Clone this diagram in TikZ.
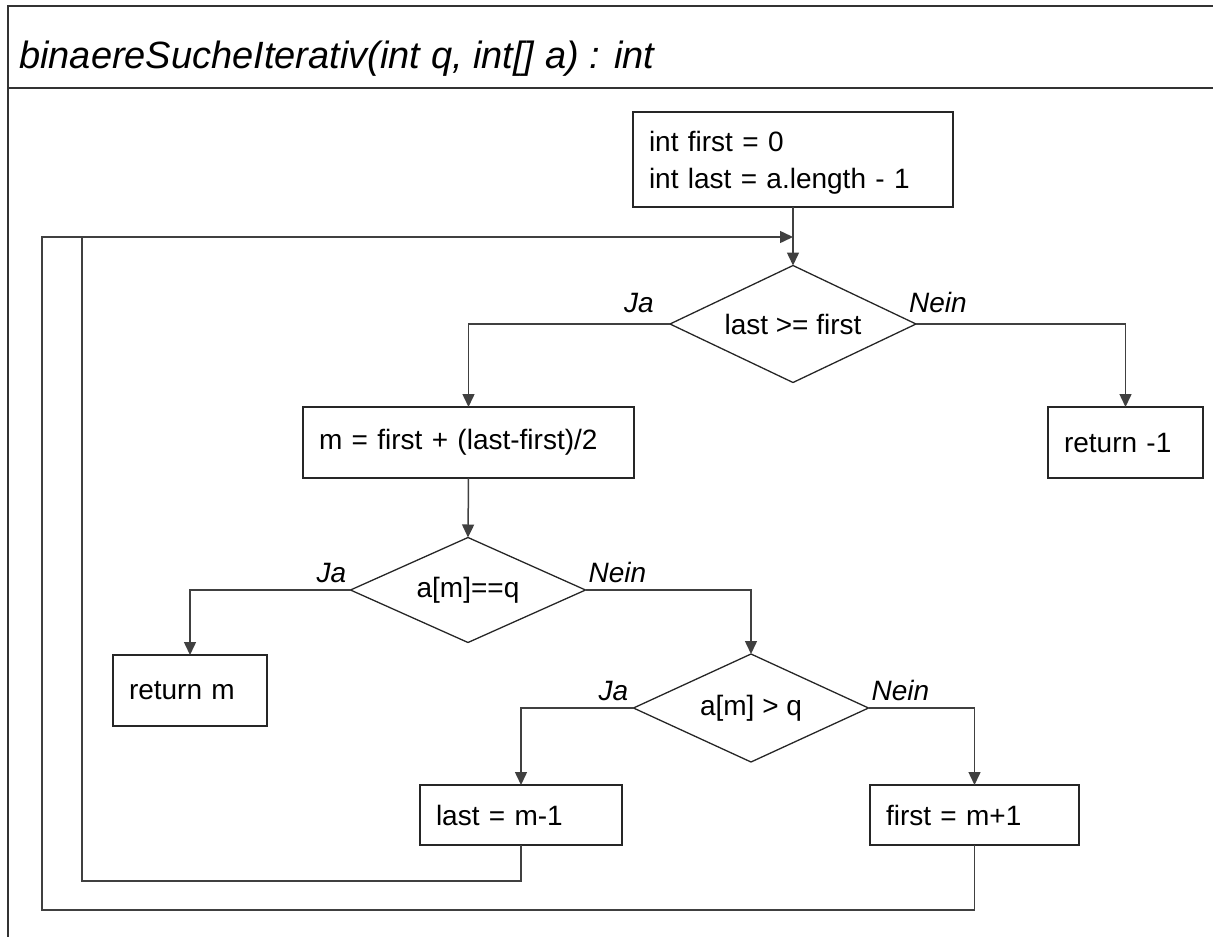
\documentclass[tikz,border=0pt]{standalone}
\usepackage{fontspec}
\setmainfont{Liberation Sans}
\usetikzlibrary{shapes.geometric,arrows.meta}
\begin{document}
\begin{tikzpicture}[x=1pt,y=-1pt,
  font=\fontsize{28}{37}\selectfont,
  frame/.style={line width=2pt,draw=black!80},
  box/.style={draw=black!85,line width=1.5pt,rectangle,inner xsep=16pt,inner ysep=0pt,
    outer sep=0pt,align=left,anchor=north west},
  decision/.style={draw=black!85,line width=1.3pt,diamond,inner sep=0pt,outer sep=0pt},
  flow/.style={draw=black!75,line width=1.5pt},
  arr/.style={flow,-{Triangle[length=13pt,width=12pt]}},
  lbl/.style={font=\fontsize{28}{34}\selectfont\itshape,inner sep=0pt}]
\useasboundingbox (0,0) rectangle (1213,937);

% frame and header of the method
\draw[frame] (1213,6) -- (8,6) -- (8,937);
\draw[frame] (8,88) -- (1213,88);
\node[font=\fontsize{38}{44}\selectfont\itshape,anchor=base west,inner sep=0pt] (title)
  at (19,68) {binaereSucheIterativ(int q, int[] a) : int};

% statements
\node[box,text width=288pt,minimum height=95pt,text height=26pt] (init) at (633,112)
  {int first = 0\\int last = a.length - 1};
\node[box,text width=299pt,minimum height=71pt] (m) at (303,407)
  {m = first + (last-first)/2};
\node[box,text width=123pt,minimum height=71pt] (ret1) at (1048,407) {return -1};
\node[box,text width=122pt,minimum height=71pt] (retm) at (113,655) {return m};
\node[box,text width=170pt,minimum height=60pt] (last) at (420,785) {last = m-1};
\node[box,text width=177pt,minimum height=60pt] (first) at (870,785) {first = m+1};

% decisions
\node[decision,aspect=2.1,minimum width=246pt,minimum height=117pt] (d1) at (793,324) {last >= first};
\node[decision,aspect=2.24,minimum width=235pt,minimum height=105pt] (d2) at (468,590) {a[m]==q};
\node[decision,aspect=2.18,minimum width=235pt,minimum height=108pt] (d3) at (751,708) {a[m] > q};

% branch labels
\node[lbl,anchor=base east] (d1ja) at ([shift={(-16,-12)}]d1.west) {Ja};
\node[lbl,anchor=base west] (d1nein) at ([shift={(-7,-12)}]d1.east) {Nein};
\node[lbl,anchor=base east] (d2ja) at ([shift={(-4,-8)}]d2.west) {Ja};
\node[lbl,anchor=base west] (d2nein) at ([shift={(3,-8)}]d2.east) {Nein};
\node[lbl,anchor=base east] (d3ja) at ([shift={(-5,-8)}]d3.west) {Ja};
\node[lbl,anchor=base west] (d3nein) at ([shift={(3,-8)}]d3.east) {Nein};

% control flow
\draw[arr] (init.south) -- (d1.north);
\draw[arr] (d1.west) -| (m.north);
\draw[arr] (d1.east) -| (ret1.north);
\draw[arr] (m.south) -- (d2.north);
\draw[arr] (d2.west) -| (retm.north);
\draw[arr] (d2.east) -| (d3.north);
\draw[arr] (d3.west) -| (last.north);
\draw[arr] (d3.east) -| (first.north);

% loop back to the condition
\coordinate (entry) at (793,237);
\coordinate (innerbot) at (82,881);
\coordinate (innertop) at (82,237);
\coordinate (outerbot) at (42,910);
\draw[flow] (last.south) |- (innerbot) -- (innertop);
\draw[arr] (first.south) |- (outerbot) |- (entry);
\end{tikzpicture}
\end{document}
